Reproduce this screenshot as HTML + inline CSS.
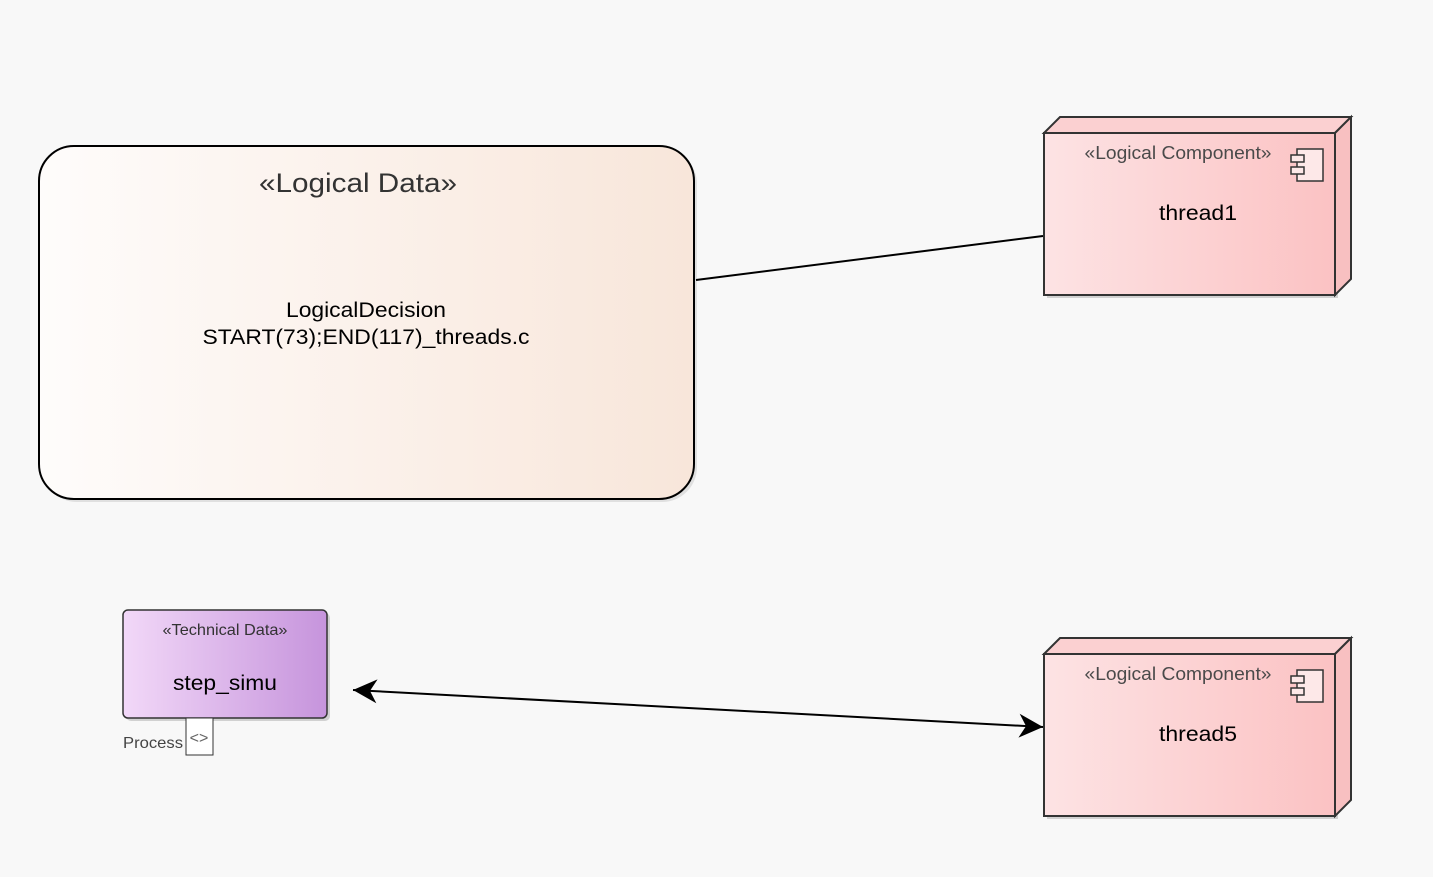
<!DOCTYPE html>
<html><head><meta charset="utf-8"><style>
html,body{margin:0;padding:0;background:#f8f8f8;}
svg{display:block;font-family:"Liberation Sans",sans-serif;}
</style></head><body>
<svg width="1433" height="877" viewBox="0 0 1433 877" xmlns="http://www.w3.org/2000/svg">
<defs>
<linearGradient id="ld" x1="0" x2="1" y1="0" y2="0"><stop offset="0" stop-color="#fefcfb"/><stop offset="1" stop-color="#f8e6da"/></linearGradient>
<linearGradient id="lc" x1="0" x2="1" y1="0" y2="0"><stop offset="0" stop-color="#fde3e4"/><stop offset="1" stop-color="#fbc2c3"/></linearGradient>
<linearGradient id="td" x1="0" x2="1" y1="0" y2="0"><stop offset="0" stop-color="#f2d8f8"/><stop offset="1" stop-color="#c694dc"/></linearGradient>
<marker id="ah" viewBox="0 0 24 24" refX="24" refY="12" markerWidth="24" markerHeight="24" markerUnits="userSpaceOnUse" orient="auto-start-reverse"><path d="M0,0 L24,12 L0,24 L7,12 z" fill="#000"/></marker>
</defs>
<rect width="1433" height="877" fill="#f8f8f8"/>

<rect x="42" y="149" width="655" height="353" rx="35" fill="#c8c8c8" opacity="0.5"/>
<rect x="39" y="146" width="655" height="353" rx="35" fill="url(#ld)" stroke="#000" stroke-width="2"/>
<text x="358" y="192" text-anchor="middle" font-size="27" fill="#333" textLength="198" lengthAdjust="spacingAndGlyphs">«Logical Data»</text>
<text x="366" y="317" text-anchor="middle" font-size="21" fill="#000" textLength="160" lengthAdjust="spacingAndGlyphs">LogicalDecision</text>
<text x="366" y="344" text-anchor="middle" font-size="21" fill="#000" textLength="327" lengthAdjust="spacingAndGlyphs">START(73);END(117)_threads.c</text>

<line x1="696" y1="280" x2="1043" y2="236" stroke="#000" stroke-width="2"/>

<g>
<rect x="1047" y="136" width="291" height="162" fill="#aaa" opacity="0.5"/>
<polygon points="1044,133 1060,117 1351,117 1335,133" fill="#fbd0d1" stroke="#333" stroke-width="2"/>
<polygon points="1335,133 1351,117 1351,279 1335,295" fill="#f8c0c1" stroke="#333" stroke-width="2"/>
<rect x="1044" y="133" width="291" height="162" fill="url(#lc)" stroke="#333" stroke-width="2"/>
<text x="1178" y="159" text-anchor="middle" font-size="18" fill="#4a4a4a" textLength="187" lengthAdjust="spacingAndGlyphs">«Logical Component»</text>
<text x="1198" y="220" text-anchor="middle" font-size="21" fill="#000" textLength="78" lengthAdjust="spacingAndGlyphs">thread1</text>
<rect x="1297" y="149" width="26" height="32" fill="#fde8e8" stroke="#333" stroke-width="1.5"/>
<rect x="1291" y="155" width="13" height="7" fill="#fde8e8" stroke="#333" stroke-width="1.5"/>
<rect x="1291" y="167" width="13" height="7" fill="#fde8e8" stroke="#333" stroke-width="1.5"/>
</g>

<g>
<rect x="1047" y="657" width="291" height="162" fill="#aaa" opacity="0.5"/>
<polygon points="1044,654 1060,638 1351,638 1335,654" fill="#fbd0d1" stroke="#333" stroke-width="2"/>
<polygon points="1335,654 1351,638 1351,800 1335,816" fill="#f8c0c1" stroke="#333" stroke-width="2"/>
<rect x="1044" y="654" width="291" height="162" fill="url(#lc)" stroke="#333" stroke-width="2"/>
<text x="1178" y="680" text-anchor="middle" font-size="18" fill="#4a4a4a" textLength="187" lengthAdjust="spacingAndGlyphs">«Logical Component»</text>
<text x="1198" y="741" text-anchor="middle" font-size="21" fill="#000" textLength="78" lengthAdjust="spacingAndGlyphs">thread5</text>
<rect x="1297" y="670" width="26" height="32" fill="#fde8e8" stroke="#333" stroke-width="1.5"/>
<rect x="1291" y="676" width="13" height="7" fill="#fde8e8" stroke="#333" stroke-width="1.5"/>
<rect x="1291" y="688" width="13" height="7" fill="#fde8e8" stroke="#333" stroke-width="1.5"/>
</g>

<rect x="126" y="613" width="204" height="108" rx="5" fill="#aaa" opacity="0.5"/>
<rect x="123" y="610" width="204" height="108" rx="5" fill="url(#td)" stroke="#333" stroke-width="1.5"/>
<text x="225" y="635" text-anchor="middle" font-size="16" fill="#333" textLength="125" lengthAdjust="spacingAndGlyphs">«Technical Data»</text>
<text x="225" y="690" text-anchor="middle" font-size="21" fill="#000" textLength="104" lengthAdjust="spacingAndGlyphs">step_simu</text>
<rect x="186" y="718" width="27" height="37" fill="#fff" stroke="#333" stroke-width="1"/>
<text x="199" y="743" text-anchor="middle" font-size="16" fill="#666">&lt;&gt;</text>
<text x="123" y="748" font-size="16" fill="#444" textLength="60" lengthAdjust="spacingAndGlyphs">Process</text>

<line x1="353" y1="690" x2="1043" y2="727" stroke="#000" stroke-width="2" marker-start="url(#ah)" marker-end="url(#ah)"/>
</svg>
</body></html>
